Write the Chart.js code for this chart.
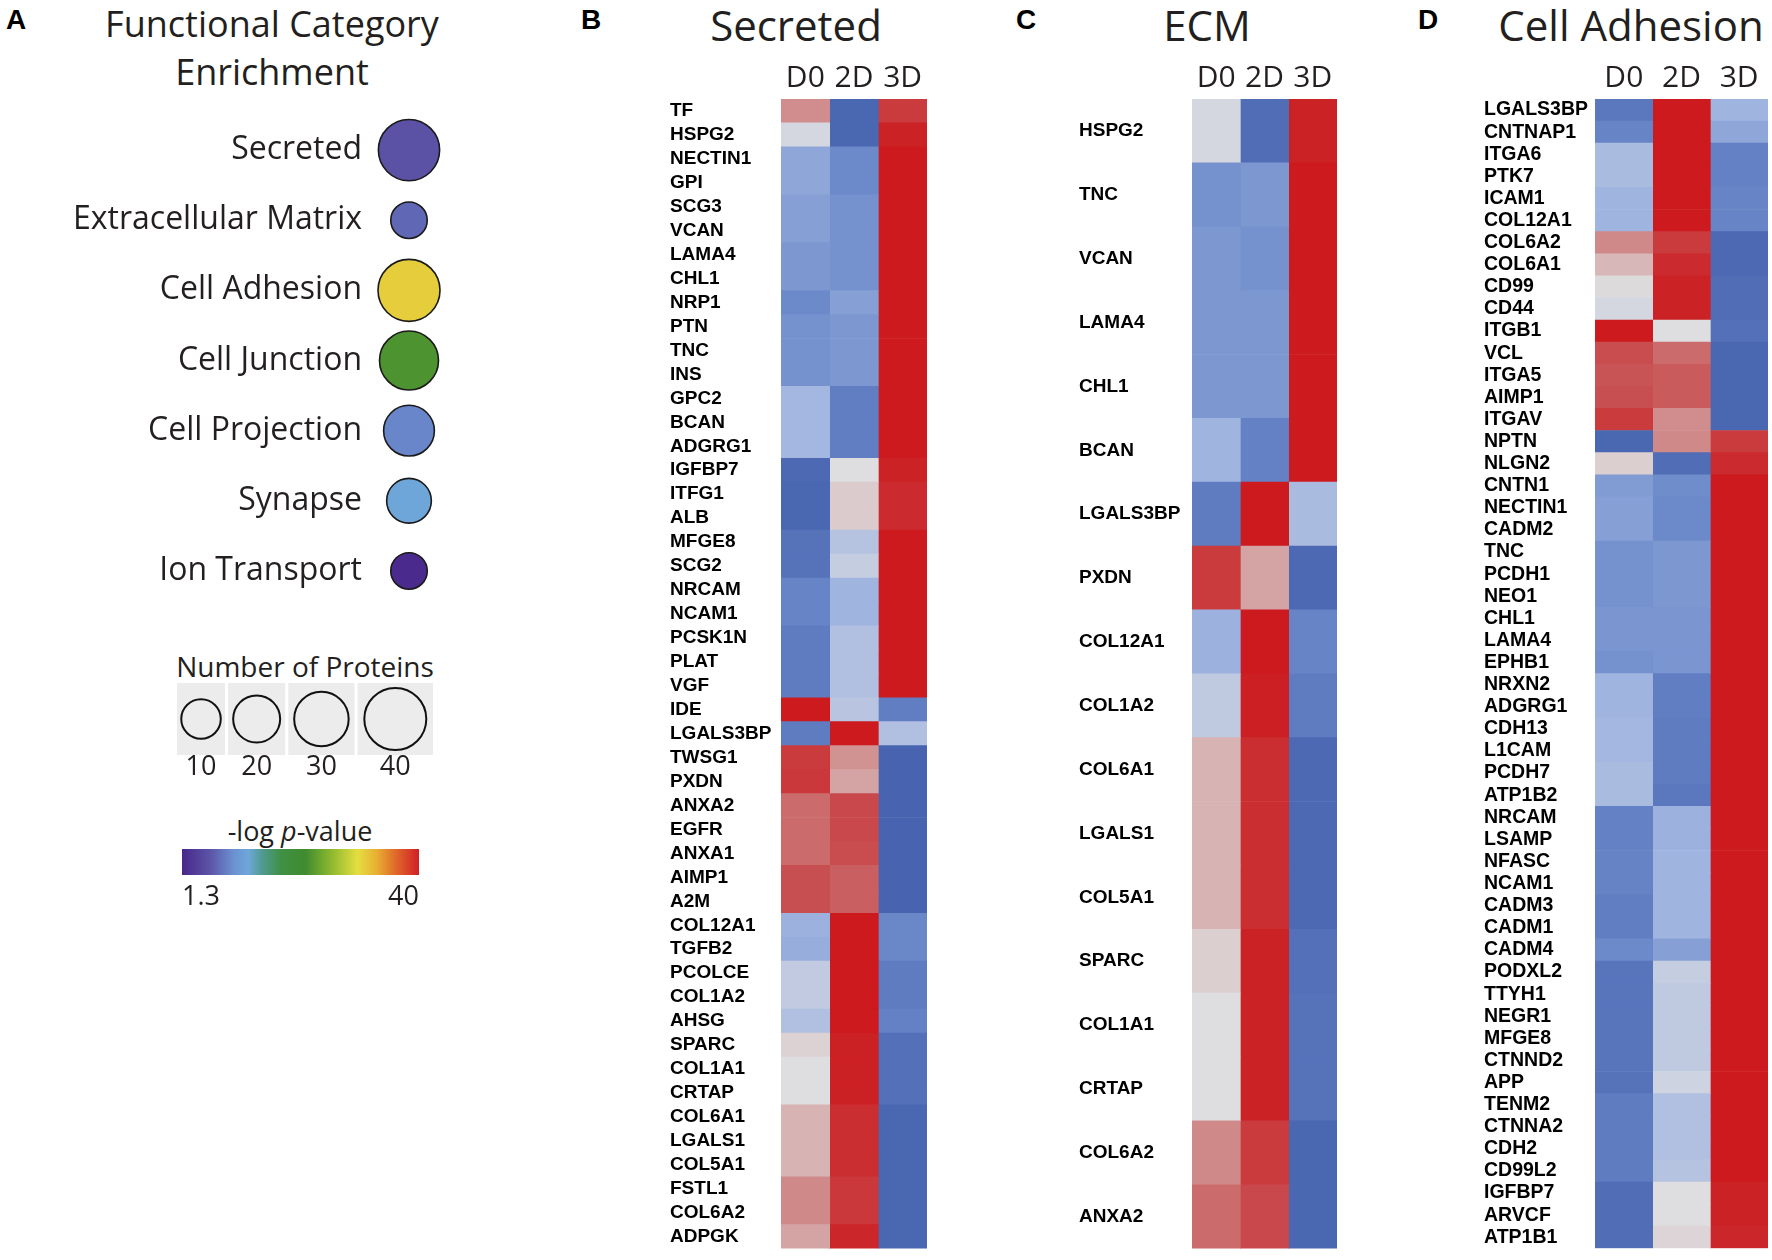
<!DOCTYPE html>
<html>
<head>
<meta charset="utf-8">
<script src="https://cdn.jsdelivr.net/npm/chart.js@4.4.1/dist/chart.umd.min.js"></script>
<style>
  body { margin: 0; background: #fff; width: 1772px; height: 1260px; position: relative; overflow: hidden; }
  canvas { position: absolute; }
  .txt { position: absolute; white-space: nowrap; line-height: 1; color: #231f20; font-family: 'Open Sans'; text-align: center; width: 400px; }
  .lbl { position: absolute; line-height: 1; font-family: 'Liberation Sans', Arial; font-weight: bold; font-size: 28px; color: #000; }
</style>
</head>
<body>
<div class="lbl" style="left:6px;top:6px">A</div>
<div class="lbl" style="left:581px;top:6px">B</div>
<div class="lbl" style="left:1016px;top:6px">C</div>
<div class="lbl" style="left:1418px;top:6px">D</div>

<div class="txt" style="left:72px;top:6px;font-size:36px">Functional Category</div>
<div class="txt" style="left:72px;top:54px;font-size:36px">Enrichment</div>
<div class="txt" style="left:596px;top:4px;font-size:42px">Secreted</div>
<div class="txt" style="left:1007px;top:4px;font-size:42px">ECM</div>
<div class="txt" style="left:1431px;top:4px;font-size:42px">Cell Adhesion</div>
<div class="txt" style="left:105px;top:652px;font-size:28px">Number of Proteins</div>
<div class="txt" style="left:100px;top:817px;font-size:27px">-log <i>p</i>-value</div>

<canvas id="bubbles" width="460" height="520" style="left:0;top:100px"></canvas>
<canvas id="sizes" width="256" height="100" style="left:177px;top:683px"></canvas>
<canvas id="colorbar" width="262" height="80" style="left:170px;top:840px"></canvas>
<canvas id="secreted" width="262" height="1260" style="left:670px;top:0"></canvas>
<canvas id="ecm" width="263" height="1260" style="left:1079px;top:0"></canvas>
<canvas id="adhesion" width="288" height="1260" style="left:1484px;top:0"></canvas>

<script>
// panneau A : categories fonctionnelles
const categories = ['Secreted', 'Extracellular Matrix', 'Cell Adhesion', 'Cell Junction', 'Cell Projection', 'Synapse', 'Ion Transport'];
const proteinCounts = [39, 6, 40, 36, 25, 17, 6];
const logP = [5.6, 7.1, 31.1, 22.2, 9.0, 12.1, 1.7];
const sizeLegend = [10, 20, 30, 40];
const pRange = [1.3, 40];

// heatmaps
const conditions = ['D0', '2D', '3D'];

const secretedGenes = ['TF','HSPG2','NECTIN1','GPI','SCG3','VCAN','LAMA4','CHL1','NRP1','PTN','TNC','INS','GPC2','BCAN','ADGRG1','IGFBP7','ITFG1','ALB','MFGE8','SCG2','NRCAM','NCAM1','PCSK1N','PLAT','VGF','IDE','LGALS3BP','TWSG1','PXDN','ANXA2','EGFR','ANXA1','AIMP1','A2M','COL12A1','TGFB2','PCOLCE','COL1A2','AHSG','SPARC','COL1A1','CRTAP','COL6A1','LGALS1','COL5A1','FSTL1','COL6A2','ADPGK'];
const secretedD0 = [0.4,-0.05,-0.4,-0.4,-0.45,-0.45,-0.5,-0.5,-0.6,-0.55,-0.55,-0.55,-0.28,-0.28,-0.28,-0.88,-0.9,-0.9,-0.8,-0.8,-0.65,-0.65,-0.72,-0.72,-0.72,1,-0.72,0.8,0.82,0.55,0.55,0.55,0.68,0.68,-0.32,-0.35,-0.14,-0.14,-0.22,0.06,0,0,0.22,0.22,0.22,0.42,0.42,0.3];
const secreted2D = [-0.9,-0.9,-0.6,-0.6,-0.55,-0.55,-0.55,-0.55,-0.45,-0.5,-0.5,-0.5,-0.7,-0.7,-0.7,0,0.1,0.1,-0.2,-0.12,-0.3,-0.3,-0.22,-0.22,-0.22,-0.18,1,0.38,0.3,0.72,0.72,0.7,0.6,0.6,1,1,1,1,1,0.96,0.96,0.96,0.88,0.88,0.88,0.82,0.82,0.93];
const secreted3D = [0.8,0.95,1,1,1,1,1,1,1,1,1,1,1,1,1,0.95,0.9,0.9,1,1,1,1,1,1,1,-0.7,-0.22,-0.92,-0.92,-0.92,-0.92,-0.92,-0.92,-0.92,-0.62,-0.62,-0.72,-0.72,-0.68,-0.82,-0.82,-0.82,-0.9,-0.9,-0.9,-0.9,-0.9,-0.9];

const ecmGenes = ['HSPG2','TNC','VCAN','LAMA4','CHL1','BCAN','LGALS3BP','PXDN','COL12A1','COL1A2','COL6A1','LGALS1','COL5A1','SPARC','COL1A1','CRTAP','COL6A2','ANXA2'];
const ecmD0 = [-0.05,-0.55,-0.5,-0.5,-0.5,-0.3,-0.72,0.8,-0.32,-0.15,0.22,0.22,0.22,0.08,0,0,0.42,0.55];
const ecm2D = [-0.85,-0.5,-0.55,-0.5,-0.5,-0.68,1,0.3,1,0.97,0.88,0.88,0.88,0.95,0.95,0.95,0.8,0.72];
const ecm3D = [0.95,1,1,1,1,1,-0.25,-0.88,-0.65,-0.72,-0.88,-0.88,-0.88,-0.82,-0.8,-0.8,-0.9,-0.9];

const adhesionGenes = ['LGALS3BP','CNTNAP1','ITGA6','PTK7','ICAM1','COL12A1','COL6A2','COL6A1','CD99','CD44','ITGB1','VCL','ITGA5','AIMP1','ITGAV','NPTN','NLGN2','CNTN1','NECTIN1','CADM2','TNC','PCDH1','NEO1','CHL1','LAMA4','EPHB1','NRXN2','ADGRG1','CDH13','L1CAM','PCDH7','ATP1B2','NRCAM','LSAMP','NFASC','NCAM1','CADM3','CADM1','CADM4','PODXL2','TTYH1','NEGR1','MFGE8','CTNND2','APP','TENM2','CTNNA2','CDH2','CD99L2','IGFBP7','ARVCF','ATP1B1'];
const adhesionD0 = [-0.75,-0.65,-0.25,-0.25,-0.3,-0.3,0.42,0.2,0.02,-0.05,1,0.7,0.65,0.68,0.8,-0.9,0.08,-0.48,-0.45,-0.45,-0.55,-0.55,-0.55,-0.52,-0.52,-0.55,-0.3,-0.3,-0.28,-0.28,-0.25,-0.25,-0.68,-0.68,-0.66,-0.66,-0.7,-0.7,-0.6,-0.78,-0.78,-0.78,-0.78,-0.78,-0.8,-0.72,-0.72,-0.72,-0.72,-0.85,-0.85,-0.85];
const adhesion2D = [1,1,1,1,1,1,0.8,0.9,0.95,0.95,0,0.55,0.62,0.62,0.4,0.42,-0.85,-0.58,-0.6,-0.6,-0.5,-0.5,-0.5,-0.52,-0.52,-0.52,-0.7,-0.7,-0.72,-0.72,-0.72,-0.75,-0.32,-0.32,-0.3,-0.3,-0.3,-0.3,-0.45,-0.12,-0.15,-0.15,-0.15,-0.15,-0.08,-0.22,-0.22,-0.22,-0.2,0,0,0.05];
const adhesion3D = [-0.3,-0.4,-0.68,-0.68,-0.65,-0.65,-0.88,-0.88,-0.85,-0.85,-0.82,-0.9,-0.9,-0.9,-0.9,0.8,0.9,1,1,1,1,1,1,1,1,1,1,1,1,1,1,1,1,1,1,1,1,1,1,1,1,1,1,1,1,1,1,1,1,0.95,0.95,0.92];

// palettes
const pStops = [[0,'#48278a'],[0.12,'#5c55a8'],[0.22,'#6b93d2'],[0.28,'#6fa6d9'],[0.34,'#4f9a8f'],[0.42,'#3f9043'],[0.52,'#3f8b30'],[0.62,'#86b52e'],[0.74,'#e4de40'],[0.82,'#e8b032'],[0.9,'#e06a2a'],[1,'#d11f28']];
const heatStops = [[-1,[63,91,170]],[-0.6,[108,138,202]],[-0.3,[160,180,224]],[0,[222,222,224]],[0.3,[212,164,164]],[0.65,[200,84,86]],[1,[204,26,30]]];

function hexRgb(h) {
  return [1, 3, 5].map(i => parseInt(h.slice(i, i + 2), 16));
}
function lerpStops(stops, v) {
  if (v <= stops[0][0]) return stops[0][1];
  for (let i = 1; i < stops.length; i++) {
    if (v <= stops[i][0]) {
      const [a, ca] = stops[i - 1], [b, cb] = stops[i];
      const t = (v - a) / (b - a);
      return ca.map((c, k) => Math.round(c + (cb[k] - c) * t));
    }
  }
  return stops[stops.length - 1][1];
}
function pColor(p) {
  const t = (p - pRange[0]) / (pRange[1] - pRange[0]);
  const c = lerpStops(pStops.map(([s, h]) => [s, hexRgb(h)]), t);
  return 'rgb(' + c.join(',') + ')';
}
function heatColor(v) {
  return 'rgb(' + lerpStops(heatStops, v).join(',') + ')';
}
function radiusFor(n) {
  return 16 + 0.375 * n;
}

const noGrid = { display: false, drawTicks: false };
const noBorder = { display: false };
const quiet = { legend: { display: false }, tooltip: { enabled: false } };

// bulles
new Chart(document.getElementById('bubbles'), {
  type: 'bubble',
  data: {
    datasets: [{
      data: categories.map((c, i) => ({ x: 1, y: c, r: radiusFor(proteinCounts[i]) })),
      backgroundColor: logP.map(pColor),
      borderColor: '#1a1a1a',
      borderWidth: 1.6,
      clip: false
    }]
  },
  options: {
    responsive: false, animation: false,
    layout: { autoPadding: false, padding: { top: 15, bottom: 14, left: 0, right: 16 } },
    plugins: quiet,
    scales: {
      x: { type: 'linear', min: 0, max: 2, display: false },
      y: {
        type: 'category', labels: categories, offset: true,
        grid: noGrid, border: noBorder,
        afterFit: s => { s.width = 374; s.paddingTop = 0; s.paddingBottom = 0; },
        ticks: { font: { family: 'Open Sans', size: 32 }, color: '#231f20', padding: 12 }
      }
    }
  }
});

// legende des tailles
const legendR = sizeLegend.map(radiusFor);
const boxW = legendR.map(r => 2.4 * r);
const boxGap = 3;
const boxX = [];
let acc = 0;
boxW.forEach(w => { boxX.push(acc + w / 2); acc += w + boxGap; });
const legendSpan = acc - boxGap;

const greyBoxes = {
  id: 'greyBoxes',
  beforeDatasetsDraw(chart) {
    const { ctx, chartArea, scales } = chart;
    ctx.save();
    ctx.fillStyle = '#ececec';
    boxX.forEach((x, i) => {
      const l = scales.x.getPixelForValue(x - boxW[i] / 2);
      const r = scales.x.getPixelForValue(x + boxW[i] / 2);
      ctx.fillRect(l, chartArea.top, r - l, chartArea.bottom - chartArea.top);
    });
    ctx.restore();
  }
};

new Chart(document.getElementById('sizes'), {
  type: 'bubble',
  data: {
    datasets: [{
      data: sizeLegend.map((n, i) => ({ x: boxX[i], y: 0.5, r: legendR[i] })),
      backgroundColor: 'rgba(0,0,0,0)',
      borderColor: '#111',
      borderWidth: 2,
      clip: false
    }]
  },
  options: {
    responsive: false, animation: false,
    layout: { autoPadding: false, padding: 0 },
    plugins: quiet,
    scales: {
      x: {
        type: 'linear', min: 0, max: legendSpan,
        grid: noGrid, border: noBorder,
        afterBuildTicks: s => { s.ticks = boxX.map(v => ({ value: v })); },
        afterFit: s => { s.height = 28; },
        ticks: { callback: (v, i) => String(sizeLegend[i]), font: { family: 'Open Sans', size: 27, lineHeight: 1 }, color: '#231f20', padding: -1, maxRotation: 0 }
      },
      y: { type: 'linear', min: 0, max: 1, display: false }
    }
  },
  plugins: [greyBoxes]
});

// barre de couleur
new Chart(document.getElementById('colorbar'), {
  type: 'bar',
  data: {
    labels: ['-log p'],
    datasets: [{
      data: [pRange],
      backgroundColor: c => {
        const a = c.chart.chartArea;
        if (!a) return null;
        const g = c.chart.ctx.createLinearGradient(a.left, 0, a.right, 0);
        pStops.forEach(([t, col]) => g.addColorStop(t, col));
        return g;
      },
      borderWidth: 0,
      barPercentage: 1,
      categoryPercentage: 1
    }]
  },
  options: {
    indexAxis: 'y', responsive: false, animation: false,
    layout: { padding: { left: 12, right: 13, top: 9, bottom: 0 } },
    plugins: quiet,
    scales: {
      x: {
        type: 'linear', min: pRange[0], max: pRange[1],
        grid: noGrid, border: noBorder,
        afterBuildTicks: s => { s.ticks = pRange.map(v => ({ value: v })); },
        afterFit: s => { s.height = 45; },
        ticks: { align: 'inner', callback: v => String(v), font: { family: 'Open Sans', size: 27, lineHeight: 1 }, color: '#231f20', padding: 9, maxRotation: 0 }
      },
      y: { display: false }
    }
  }
});

// heatmaps : une barre empilee par gene, une case par condition
function heatmap(id, genes, d0, d2, d3, axisWidth, padRight, labelSize) {
  const cols = [d0, d2, d3];
  return new Chart(document.getElementById(id), {
    type: 'bar',
    data: {
      labels: genes,
      datasets: cols.map((vals, k) => ({
        label: conditions[k],
        data: vals.map(() => 1),
        backgroundColor: vals.map(heatColor),
        borderWidth: 0,
        barPercentage: 1,
        categoryPercentage: 1
      }))
    },
    options: {
      indexAxis: 'y', responsive: false, animation: false,
      layout: { padding: { top: 0, right: padRight, bottom: 9, left: 0 } },
      plugins: quiet,
      scales: {
        x: {
          type: 'linear', position: 'top', stacked: true, min: 0, max: 3,
          grid: noGrid, border: noBorder,
          afterBuildTicks: s => { s.ticks = conditions.map((c, i) => ({ value: i + 0.5 })); },
          afterFit: s => { s.height = 99; },
          ticks: { callback: (v, i) => conditions[i], font: { family: 'Open Sans', size: 30 }, color: '#231f20', padding: 3, maxRotation: 0, autoSkip: false }
        },
        y: {
          type: 'category', stacked: true, offset: true,
          grid: noGrid, border: noBorder,
          afterFit: s => { s.width = axisWidth; },
          ticks: { autoSkip: false, crossAlign: 'far', font: { family: 'Liberation Sans', size: labelSize, weight: 'bold' }, color: '#000', padding: 0 }
        }
      }
    }
  });
}

heatmap('secreted', secretedGenes, secretedD0, secreted2D, secreted3D, 111, 5, 19);
heatmap('ecm', ecmGenes, ecmD0, ecm2D, ecm3D, 113, 5, 19);
heatmap('adhesion', adhesionGenes, adhesionD0, adhesion2D, adhesion3D, 111, 4, 19.5);
</script>
</body>
</html>
